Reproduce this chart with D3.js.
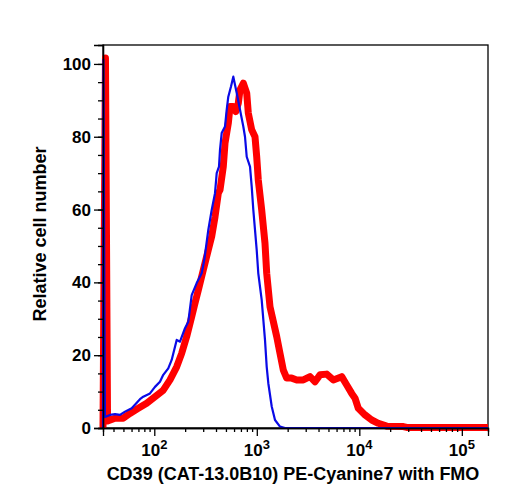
<!DOCTYPE html>
<html>
<head>
<meta charset="utf-8" />
<title></title>
<style>
    body { margin: 0; background: #fff; }
    text { font-family: "Liberation Sans", Arial, sans-serif; font-weight: bold; fill: #000; }
    .domain, .tick line { stroke: #000; stroke-width: 1.3px; }
</style>
</head>
<body>
<div id="container"></div>
<script src="https://cdn.jsdelivr.net/npm/d3@7/dist/d3.min.js"></script>
<script>
// intensity (x) and relative cell number (y)
var fmoX = [31.6, 31.9, 33.0, 37.0, 41.4, 46.3, 51.8, 60.2, 72.5, 78.1, 90.8, 101.6, 113.6, 122.4, 136.9, 147.8,
    165.4, 178.1, 199.3, 214.7, 231.7, 259.2, 290.0, 307.5, 336.4, 363.1, 391.1, 406.3, 427.8, 437.5, 454.5,
    489.6, 508.5, 527.2, 560.2, 589.9, 636.8, 685.8, 738.5, 767.2, 797.1, 858.6, 891.9, 924.6, 960.3, 997.7,
    1034, 1116, 1202, 1249, 1295, 1398, 1505, 1684, 1884, 180000];
var fmoY = [0, 101.1, 3.0, 3.6, 3.8, 3.6, 4.5, 5.4, 7.9, 8.6, 9.5, 11.3, 12.7, 14.6, 16.4, 18.7,
    24.2, 23.7, 27.4, 29.2, 36.5, 39.8, 42.5, 46.2, 54.4, 59.9, 64.5, 70.0, 71.8, 76.4, 81.0,
    82.8, 87.4, 91.0, 93.8, 96.5, 92.0, 87.4, 82.8, 80.0, 74.5, 71.8, 66.3, 59.9, 54.4, 48.9,
    42.5, 35.2, 24.2, 16.8, 12.3, 5.9, 2.2, 0.4, 0, 0];

var cd39X = [31.6, 33.4, 35.0, 41.4, 49.8, 57.9, 69.8, 84.3, 101.6, 122.4, 142.3, 165.4, 185.0, 207.0, 231.7,
    249.5, 268.8, 300.6, 336.4, 363.1, 391.1, 421.1, 437.5, 471.2, 489.6, 527.2, 547.7, 589.9, 622.6,
    659.9, 685.8, 738.5, 797.1, 826.3, 891.9, 960.3, 997.7, 1034, 1116, 1202, 1249, 1345, 1564, 1684,
    1814, 1957, 2190, 2451, 2843, 3304, 3697, 4136, 4808, 5577, 6734, 7536, 8431, 9078, 9777, 11365,
    13213, 15326, 18505, 26881, 28998, 180000];
var cd39Y = [0, 101.6, 1.9, 2.7, 2.7, 4.0, 5.4, 6.8, 8.6, 10.4, 13.2, 16.8, 20.5, 25.1, 30.6,
    34.3, 37.9, 43.4, 48.9, 52.6, 58.0, 64.5, 65.4, 71.8, 78.2, 83.7, 88.3, 88.3, 86.9,
    89.2, 92.9, 94.7, 92.0, 86.5, 81.9, 80.0, 74.5, 68.1, 59.9, 50.7, 42.5, 33.3, 25.1, 20.5,
    15.9, 13.7, 13.7, 13.2, 13.2, 14.1, 12.7, 14.6, 14.8, 13.2, 14.1, 11.8, 9.5, 8.2, 5.4, 3.6,
    2.2, 1.3, 0.5, 0.4, 0.15, 0.15];

var xMajor = [100, 1000, 10000, 100000];
var xLabelExp = ["2", "3", "4", "5"];
var yMajor = [0, 20, 40, 60, 80, 100];

var width = 508, height = 500,
    margin = { left: 103, top: 45, right: 20, bottom: 72 },
    g_width = width - margin.left - margin.right,
    g_height = height - margin.top - margin.bottom;

var svg = d3.select("#container").append("svg")
    .attr("width", width)
    .attr("height", height);

var g = svg.append("g")
    .attr("transform", "translate(" + margin.left + "," + margin.top + ")");

var scale_x = d3.scaleLog().domain([31.6, 180000]).range([0, g_width]);
var scale_y = d3.scaleLinear().domain([0, 105.2]).range([g_height, 0]);

// minor tick values
var xMinor = [];
[10, 100, 1000, 10000, 100000].forEach(function(dec) {
    for (var k = 2; k <= 9; k++) {
        var v = k * dec;
        if (v >= 31.6 && v <= 180000) xMinor.push(v);
    }
});
var yMinor = d3.range(0, 101, 5);

// frame
g.append("rect")
    .attr("width", g_width)
    .attr("height", g_height)
    .attr("fill", "none")
    .attr("stroke", "#000")
    .attr("stroke-width", 1.3);

// curves
var line = d3.line()
    .x(function(d) { return scale_x(d[0]); })
    .y(function(d) { return scale_y(d[1]); });

g.append("path")
    .attr("d", line(d3.zip(cd39X, cd39Y)))
    .attr("fill", "none")
    .attr("stroke", "#ff0000")
    .attr("stroke-width", 7)
    .attr("stroke-linejoin", "round");

g.append("path")
    .attr("d", line(d3.zip(fmoX, fmoY)))
    .attr("fill", "none")
    .attr("stroke", "#0a0ae6")
    .attr("stroke-width", 2.2)
    .attr("stroke-linejoin", "round");

// y axis
g.append("g")
    .call(d3.axisLeft(scale_y).tickValues(yMinor).tickSize(5).tickFormat(""));
var yAxis = g.append("g")
    .call(d3.axisLeft(scale_y).tickValues(yMajor).tickSize(9).tickPadding(3));
yAxis.selectAll(".tick text").attr("font-size", "17px");

// x axis
var xb = g.append("g").attr("transform", "translate(0," + g_height + ")");
xb.append("g").call(d3.axisBottom(scale_x).tickValues(xMinor).tickSize(4).tickFormat(""));
xb.append("g").call(d3.axisBottom(scale_x).tickValues(xMajor).tickSize(8).tickFormat(""));

var xl = xb.selectAll(".xlabel")
    .data(xMajor)
    .enter()
    .append("text")
    .attr("class", "xlabel")
    .attr("x", function(d) { return scale_x(d); })
    .attr("y", 28)
    .attr("text-anchor", "middle")
    .attr("font-size", "17px");
xl.append("tspan").text("10");
xl.append("tspan")
    .attr("dy", "-7")
    .attr("font-size", "13px")
    .text(function(d, i) { return xLabelExp[i]; });

// titles
svg.append("text")
    .attr("x", 293)
    .attr("y", 480)
    .attr("text-anchor", "middle")
    .attr("font-size", "18px")
    .text("CD39 (CAT-13.0B10) PE-Cyanine7 with FMO");

svg.append("text")
    .attr("transform", "translate(46,234) rotate(-90)")
    .attr("text-anchor", "middle")
    .attr("font-size", "18px")
    .text("Relative cell number");
</script>
</body>
</html>
